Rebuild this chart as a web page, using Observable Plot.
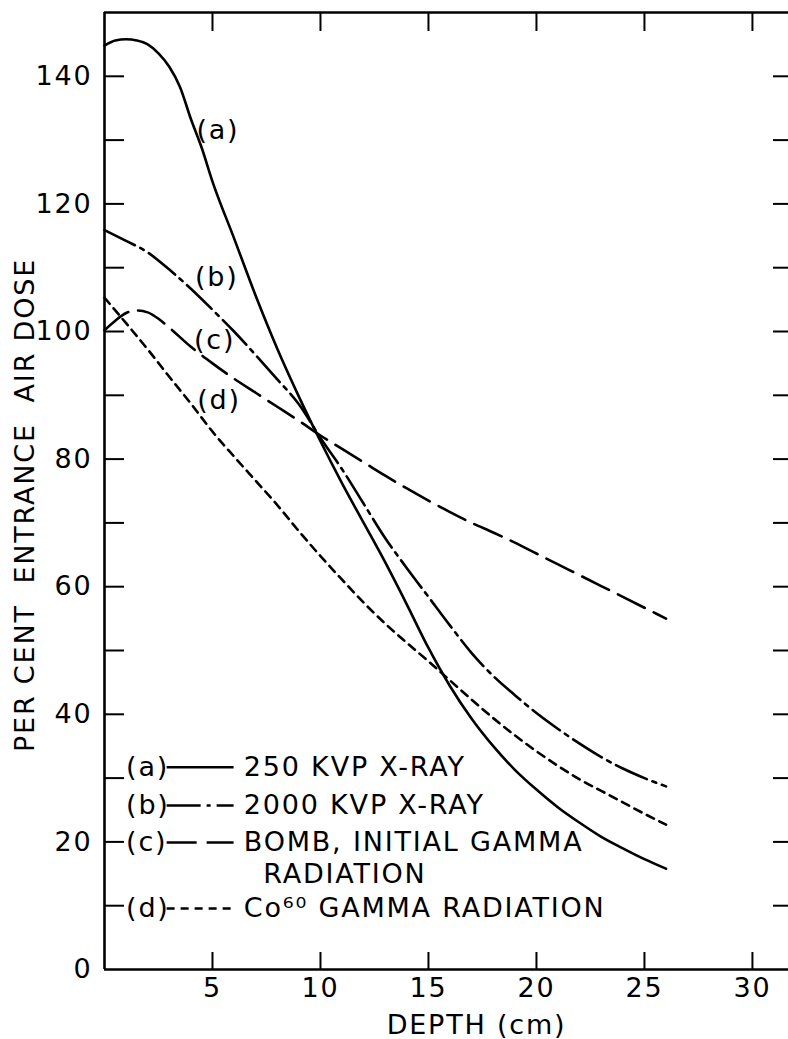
<!DOCTYPE html>
<html>
<head>
<meta charset="utf-8">
<script src="https://cdn.jsdelivr.net/npm/d3@7"></script>
<script src="https://cdn.jsdelivr.net/npm/@observablehq/plot@0.6"></script>
<style>
  html, body { margin: 0; padding: 0; background: #fff; overflow: hidden; }
  #chart svg text { letter-spacing: 1.8px; }
</style>
</head>
<body>
<div id="chart"></div>
<script>
// ---------------- data ----------------
const xTicks = [5, 10, 15, 20, 25, 30];
const yLabelTicks = [0, 20, 40, 60, 80, 100, 120, 140];
const yMinorTicks = [10, 20, 30, 40, 50, 60, 70, 80, 90, 100, 110, 120, 130, 140];

const seriesKeys = ["(a)", "(b)", "(c)", "(d)"];
const seriesNames = ["250 KVP X-RAY", "2000 KVP X-RAY", "BOMB, INITIAL GAMMA", "Co\u2076\u2070 GAMMA RADIATION"];
const seriesNameLine2 = ["", "", "RADIATION", ""];

// (a) 250 KVP X-ray
const aDepth = [0, 0.5, 1, 1.5, 2, 2.5, 3, 3.5, 4, 4.5, 5, 6, 7, 8, 9, 10, 11, 12, 13, 14, 15, 16, 17, 18, 19, 20, 21, 22, 23, 24, 25, 26];
const aDose  = [144.8, 145.6, 145.8, 145.6, 145.0, 143.6, 141.5, 138.3, 133.3, 128.8, 123.5, 114.6, 105.6, 97.3, 89.8, 82.8, 76.2, 70.0, 63.8, 57.2, 50.4, 44.4, 39.3, 35.0, 31.3, 28.2, 25.4, 23.0, 20.8, 19.0, 17.3, 15.8];

// (b) 2000 KVP X-ray
const bDepth = [0, 1, 2, 3, 4, 5, 6, 7, 8, 9, 10, 11, 12, 13, 14, 15, 16, 17, 18, 19, 20, 21, 22, 23, 24, 25, 26];
const bDose  = [115.9, 114.2, 112.4, 109.7, 106.7, 103.4, 100.0, 96.3, 92.5, 88.6, 83.3, 78.4, 73.0, 67.6, 62.9, 58.4, 53.9, 49.6, 46.0, 43.0, 40.2, 37.7, 35.4, 33.3, 31.5, 30.0, 28.7];

// (c) bomb, initial gamma radiation
const cDepth = [0, 0.5, 1, 1.5, 2, 2.5, 3, 4, 5, 6, 7, 8, 9, 10, 11, 12, 13, 14, 15, 16, 17, 18, 19, 20, 21, 22, 23, 24, 25, 26];
const cDose  = [100.2, 101.7, 102.9, 103.3, 103.0, 102.0, 100.6, 97.6, 95.0, 92.6, 90.4, 88.2, 86.0, 83.7, 81.6, 79.5, 77.4, 75.4, 73.5, 71.7, 70.0, 68.5, 66.9, 65.2, 63.5, 61.8, 60.1, 58.4, 56.7, 55.0];

// (d) Co60 gamma radiation
const dDepth = [0, 1, 2, 3, 4, 5, 6, 7, 8, 9, 10, 11, 12, 13, 14, 15, 16, 17, 18, 19, 20, 21, 22, 23, 24, 25, 26];
const dDose  = [105.3, 101.3, 97.2, 92.9, 88.7, 84.3, 80.4, 76.6, 72.8, 68.7, 64.8, 61.1, 57.5, 54.2, 51.2, 48.3, 45.3, 42.3, 39.4, 36.7, 34.2, 31.9, 29.8, 28.0, 26.2, 24.4, 22.7];

const xTitle = "DEPTH (cm)";
const yTitle = "PER CENT  ENTRANCE  AIR DOSE";

// ---------------- layout / style ----------------
const W = 788, H = 1039;
const xMax = 31.67, yMax = 150;
const dashes = [null, "34,6,4,6", "30,10", "8,6"];
const lineW = 2.6;
const curveLabelPos = [[5.25, 131.5], [5.2, 108.5], [5.1, 98.6], [5.3, 89.2]];
const legendY = [31.7, 25.7, 19.9, 9.55];
const legendLine2Y = 14.95;
const legendKeyX = 1.0, legendSampleX1 = 2.9, legendSampleX2 = 6.0, legendTextX = 6.45, legendLine2X = 7.35;

const curves = [[aDepth, aDose], [bDepth, bDose], [cDepth, cDose], [dDepth, dDose]];

const marks = [];

// frame
marks.push(Plot.ruleX([0], {y1: 0, y2: yMax, strokeWidth: 2.6}));
marks.push(Plot.ruleY([0], {x1: 0, x2: xMax, strokeWidth: 2.6}));
marks.push(Plot.ruleY([yMax], {x1: 0, x2: xMax, strokeWidth: 2.6}));

// inward ticks
marks.push(Plot.ruleY(yMinorTicks, {x1: 0, x2: 0, insetRight: -20, strokeWidth: 2}));
marks.push(Plot.ruleY(yMinorTicks, {x1: xMax, x2: xMax, insetLeft: -15, strokeWidth: 2}));
marks.push(Plot.ruleX(xTicks, {y1: 0, y2: 0, insetTop: -17, strokeWidth: 2}));
marks.push(Plot.ruleX(xTicks, {y1: yMax, y2: yMax, insetBottom: -19, strokeWidth: 2}));

// axis labels
marks.push(Plot.axisY({ticks: yLabelTicks, tickSize: 0, tickPadding: 12, label: null, tickFormat: d => String(d)}));
marks.push(Plot.axisX({ticks: xTicks, tickSize: 0, tickPadding: 8, label: null, tickFormat: d => String(d)}));

// curves
curves.forEach(([xs, ys], i) => {
  const rows = xs.map((x, j) => ({x, y: ys[j]}));
  marks.push(Plot.line(rows, {
    x: "x", y: "y", curve: "monotone-x",
    strokeWidth: lineW, strokeDasharray: dashes[i] ?? undefined
  }));
});

// curve labels
const curveLabels = seriesKeys.map((k, i) => ({k, x: curveLabelPos[i][0], y: curveLabelPos[i][1]}));
marks.push(Plot.text(curveLabels, {x: "x", y: "y", text: "k", textAnchor: "middle"}));

// legend
const legendRows = seriesKeys.map((k, i) => ({k, name: seriesNames[i], y: legendY[i]}));
marks.push(Plot.text(legendRows, {x: () => legendKeyX, y: "y", text: "k", textAnchor: "start"}));
marks.push(Plot.text(legendRows, {x: () => legendTextX, y: "y", text: "name", textAnchor: "start"}));
marks.push(Plot.text(seriesNameLine2.filter(s => s), {x: () => legendLine2X, y: () => legendLine2Y, text: d => d, textAnchor: "start"}));
legendY.forEach((yy, i) => {
  marks.push(Plot.ruleY([yy], {x1: legendSampleX1, x2: legendSampleX2, strokeWidth: lineW, strokeDasharray: dashes[i] ?? undefined}));
});

// titles
marks.push(Plot.text([xTitle], {frameAnchor: "bottom", dx: 30, dy: 56, lineAnchor: "middle", textAnchor: "middle", text: d => d}));
marks.push(Plot.text([yTitle], {frameAnchor: "left", dx: -79, dy: 14, rotate: -90, textAnchor: "middle", lineAnchor: "middle", text: d => d}));

const chart = Plot.plot({
  width: W,
  height: H,
  marginLeft: 104,
  marginRight: 0,
  marginTop: 12,
  marginBottom: 70,
  x: {domain: [0, xMax]},
  y: {domain: [0, yMax]},
  style: {fontFamily: "'DejaVu Sans', sans-serif", fontSize: "27px", color: "black", background: "white", overflow: "visible"},
  marks
});
document.getElementById("chart").appendChild(chart);
</script>
</body>
</html>
